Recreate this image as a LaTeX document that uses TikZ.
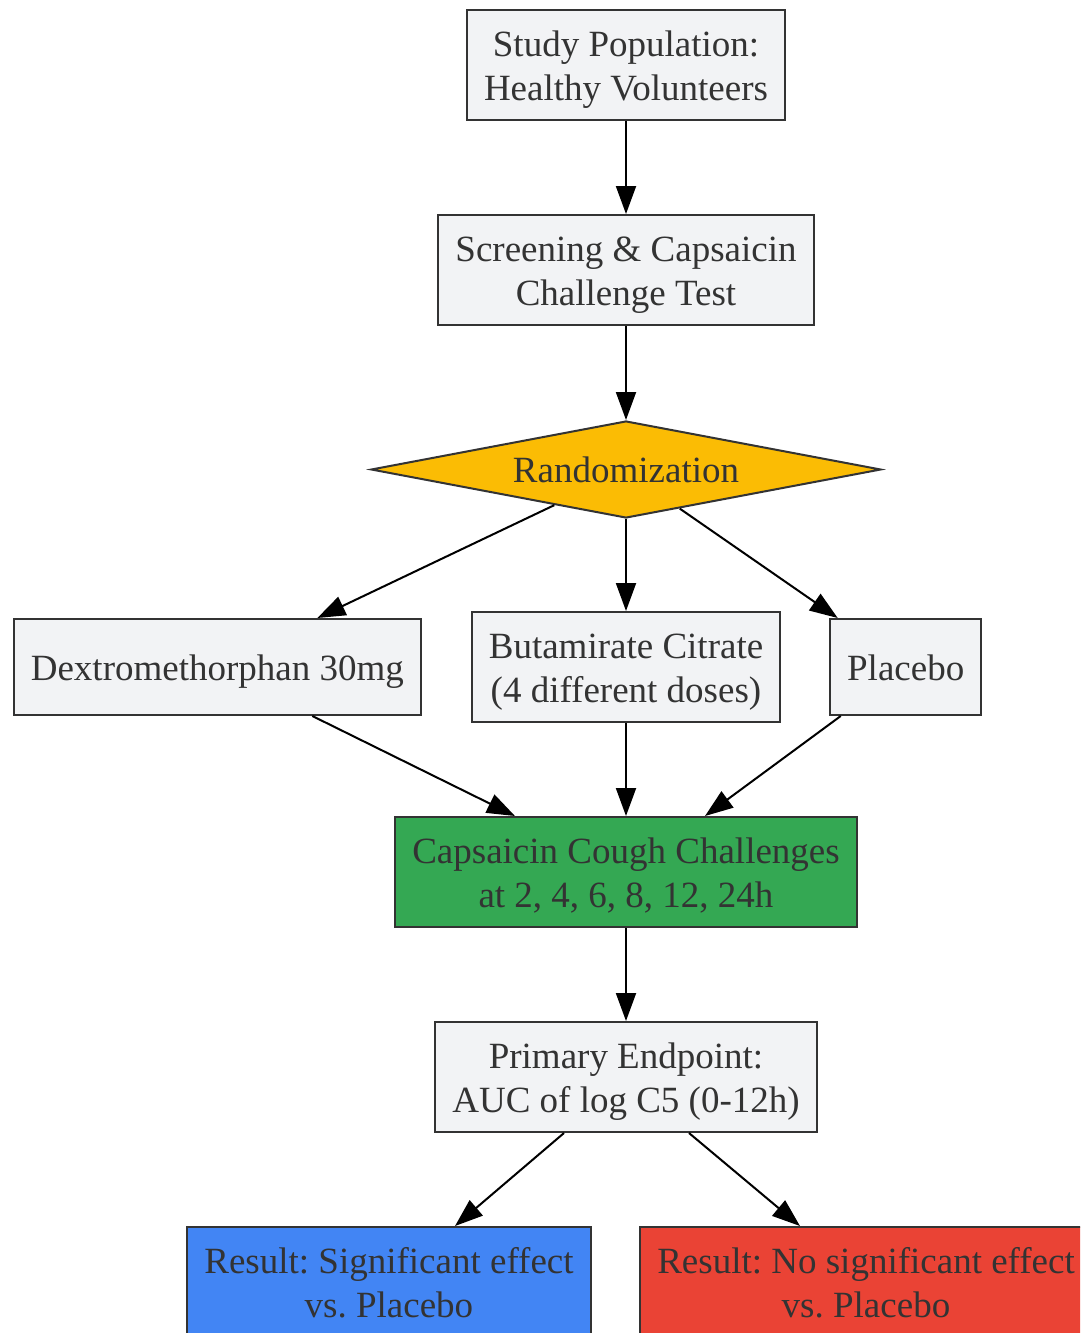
\documentclass[tikz,border=0pt]{standalone}
\usepackage{fontspec}
\setmainfont{Liberation Serif}
\usepackage{xcolor}
\usepackage{tikz}
\usetikzlibrary{shapes,arrows,positioning,calc,arrows.meta}
\frenchspacing
\definecolor{boxgray}{HTML}{F2F3F5}
\definecolor{bordergray}{HTML}{333333}
\definecolor{randyellow}{HTML}{FBBC04}
\definecolor{challgreen}{HTML}{34A853}
\definecolor{resblue}{HTML}{4285F4}
\definecolor{resred}{HTML}{EA4335}
\newcommand{\topstrut}{\rule{0pt}{36pt}}
\newcommand{\botstrut}{\rule[-9pt]{0pt}{9pt}}
\tikzstyle{stage} = [rectangle, draw=bordergray, line width=2pt, fill=boxgray, text=bordergray, align=center, inner xsep=17pt, inner ysep=10.5pt, minimum height=96pt, font=\fontsize{37}{44}\selectfont]
\tikzstyle{decision} = [diamond, draw=bordergray, line width=2pt, fill=randyellow, text=bordergray, aspect=5.3, inner sep=0pt, minimum width=510pt, minimum height=97pt, font=\fontsize{37}{44}\selectfont]
\tikzstyle{arrow} = [-{Triangle[length=28pt,width=20pt]}, line width=2pt, black]

\begin{document}
\begin{tikzpicture}[x=1pt, y=-1pt]
    \clip (0,0) rectangle (1080,1333);
    \useasboundingbox (0,0) rectangle (1080,1333);
    % Population and screening
    \node[stage] (study) at (626,65) {\topstrut Study Population:\\Healthy Volunteers\botstrut};
    \node[stage, below=93pt of study] (screen) {\topstrut Screening \& Capsaicin\\Challenge Test\botstrut};

    % Randomization
    \node[decision, below=94pt of screen] (rand) {Randomization};

    % Treatment arms
    \node[stage, below=92pt of rand] (buta) {\topstrut Butamirate Citrate\\(4 different doses)\botstrut};
    \node[stage, left=49pt of buta] (dextro) {\topstrut Dextromethorphan 30mg\botstrut};
    \node[stage, right=48pt of buta] (placebo) {\topstrut Placebo\botstrut};

    % Challenges and endpoint
    \node[stage, below=93pt of buta, fill=challgreen] (cough) {\topstrut Capsaicin Cough Challenges\\at 2, 4, 6, 8, 12, 24h\botstrut};
    \node[stage, below=93pt of cough] (endpoint) {\topstrut Primary Endpoint:\\AUC of log C5 (0-12h)\botstrut};

    % Results
    \node[stage, below=93pt of endpoint, xshift=-237pt, fill=resblue] (sig) {\topstrut Result: Significant effect\\vs. Placebo\botstrut};
    \node[stage, below=93pt of endpoint, xshift=240pt, fill=resred] (nosig) {\topstrut Result: No significant effect\\vs. Placebo\botstrut};

    % Arrows
    \draw[arrow] (study) -- (screen);
    \draw[arrow] (screen) -- (rand);
    \draw[arrow] ($(rand.south)!0.28!(rand.west)$) -- ([xshift=100pt]dextro.north);
    \draw[arrow] (rand) -- (buta);
    \draw[arrow] ($(rand.south)!0.21!(rand.east)$) -- ([xshift=-68pt]placebo.north);
    \draw[arrow] ([xshift=95pt]dextro.south) -- ([xshift=-111pt]cough.north);
    \draw[arrow] (buta) -- (cough);
    \draw[arrow] ([xshift=-65pt]placebo.south) -- ([xshift=79pt]cough.north);
    \draw[arrow] (cough) -- (endpoint);
    \draw[arrow] ([xshift=-62pt]endpoint.south) -- ([xshift=66pt]sig.north);
    \draw[arrow] ([xshift=63pt]endpoint.south) -- ([xshift=-66pt]nosig.north);
\end{tikzpicture}
\end{document}
